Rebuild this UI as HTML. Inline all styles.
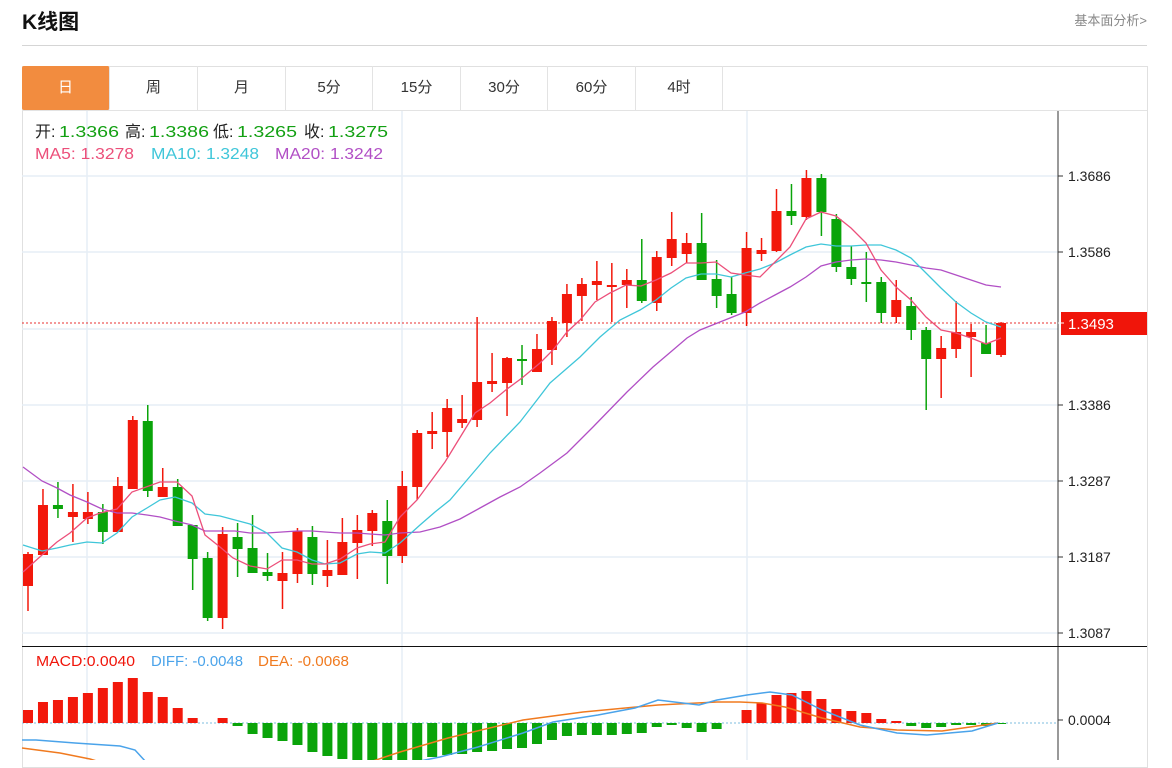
<!DOCTYPE html>
<html><head><meta charset="utf-8">
<style>
html,body{margin:0;padding:0;background:#fff;width:1172px;height:760px;overflow:hidden;font-family:"Liberation Sans","Noto Sans CJK SC",sans-serif;}
.title{position:absolute;left:22px;top:6px;font-size:21px;font-weight:bold;color:#111;}
.more{position:absolute;right:25px;top:10px;font-size:13px;color:#888;}
.hr{position:absolute;left:22px;top:45px;width:1125px;height:1px;background:#d5d5d5;}
.box{position:absolute;left:22px;top:66px;width:1124px;height:700px;border:1px solid #e0e0e0;}
.tabs{position:absolute;left:22px;top:66px;height:44px;width:1125px;border-bottom:1px solid #e3e3e3;}
.tab{position:absolute;top:0;height:44px;line-height:44px;text-align:center;font-size:15px;color:#333;border-right:1px solid #e3e3e3;box-sizing:border-box;}
.tab.on{background:#f28c3f;color:#fff;border-radius:2px;}
svg{position:absolute;left:0;top:0;}
</style></head><body>
<div class="title">K线图</div>
<div class="more">基本面分析&gt;</div>
<div class="hr"></div>
<div class="box"></div>
<div class="tabs">
<div class="tab on" style="left:0;width:88px">日</div>
<div class="tab" style="left:88px;width:88px">周</div>
<div class="tab" style="left:176px;width:88px">月</div>
<div class="tab" style="left:264px;width:87px">5分</div>
<div class="tab" style="left:351px;width:88px">15分</div>
<div class="tab" style="left:439px;width:87px">30分</div>
<div class="tab" style="left:526px;width:88px">60分</div>
<div class="tab" style="left:614px;width:87px">4时</div>
</div>
<svg id="s" width="1172" height="760" xmlns="http://www.w3.org/2000/svg" font-family="Liberation Sans, Noto Sans CJK SC, sans-serif">
<g stroke="#e6eef5" stroke-width="1.5">
<line x1="22" y1="176" x2="1058" y2="176"/><line x1="22" y1="252" x2="1058" y2="252"/><line x1="22" y1="329" x2="1058" y2="329"/><line x1="22" y1="405" x2="1058" y2="405"/><line x1="22" y1="481" x2="1058" y2="481"/><line x1="22" y1="557" x2="1058" y2="557"/><line x1="22" y1="633" x2="1058" y2="633"/>
<line x1="87" y1="111" x2="87" y2="760"/><line x1="402" y1="111" x2="402" y2="760"/><line x1="747" y1="111" x2="747" y2="760"/>
</g>
<line x1="1058" y1="111" x2="1058" y2="760" stroke="#333" stroke-width="1"/>
<line x1="22" y1="646.5" x2="1147" y2="646.5" stroke="#111" stroke-width="1"/>
<g stroke="#333"><line x1="1058" y1="176" x2="1063" y2="176"/><line x1="1058" y1="252" x2="1063" y2="252"/><line x1="1058" y1="405" x2="1063" y2="405"/><line x1="1058" y1="481" x2="1063" y2="481"/><line x1="1058" y1="557" x2="1063" y2="557"/><line x1="1058" y1="633" x2="1063" y2="633"/><line x1="1058" y1="720" x2="1063" y2="720"/></g>
<g font-size="14" fill="#222">
<text x="1068" y="181">1.3686</text><text x="1068" y="257">1.3586</text><text x="1068" y="410">1.3386</text><text x="1068" y="486">1.3287</text><text x="1068" y="562">1.3187</text><text x="1068" y="638">1.3087</text><text x="1068" y="725">0.0004</text>
</g>
<line x1="22" y1="323" x2="1058" y2="323" stroke="#e83030" stroke-dasharray="2,2" stroke-width="1"/>
<rect x="1061" y="312" width="86" height="23" fill="#f0150a"/>
<line x1="1058" y1="323" x2="1064" y2="323" stroke="#fff"/>
<text x="1068" y="329" font-size="15" fill="#fff">1.3493</text>
<g font-size="16">
<text x="35" y="137" fill="#222">开:</text><text x="59" y="137" fill="#12a012" textLength="60" lengthAdjust="spacingAndGlyphs">1.3366</text>
<text x="125" y="137" fill="#222">高:</text><text x="149" y="137" fill="#12a012" textLength="60" lengthAdjust="spacingAndGlyphs">1.3386</text>
<text x="213" y="137" fill="#222">低:</text><text x="237" y="137" fill="#12a012" textLength="60" lengthAdjust="spacingAndGlyphs">1.3265</text>
<text x="304" y="137" fill="#222">收:</text><text x="328" y="137" fill="#12a012" textLength="60" lengthAdjust="spacingAndGlyphs">1.3275</text>
<text x="35" y="159" fill="#ec4f7a" textLength="99" lengthAdjust="spacingAndGlyphs">MA5: 1.3278</text>
<text x="151" y="159" fill="#3fc6d9" textLength="108" lengthAdjust="spacingAndGlyphs">MA10: 1.3248</text>
<text x="275" y="159" fill="#b14fc5" textLength="108" lengthAdjust="spacingAndGlyphs">MA20: 1.3242</text>
</g>
<g font-size="15">
<text x="36" y="666" fill="#f0150a" textLength="99" lengthAdjust="spacingAndGlyphs">MACD:0.0040</text>
<text x="151" y="666" fill="#4aa3ea" textLength="92" lengthAdjust="spacingAndGlyphs">DIFF: -0.0048</text>
<text x="258" y="666" fill="#f07a1f" textLength="91" lengthAdjust="spacingAndGlyphs">DEA: -0.0068</text>
</g>
<line x1="22" y1="723" x2="1058" y2="723" stroke="#a9d4ea" stroke-dasharray="2,2" stroke-width="1.5"/>
<g id="c"></g>
<polyline fill="none" stroke="#b14fc5" stroke-width="1.3" points="23,467 42,481 57,488 70,495 87,502 102,509 117,513 132,513 147,515 160,517 175,521 192,525 205,531 220,531 235,531 250,533 267,533 282,532 297,531 312,531 325,532 340,533 357,533 370,534 385,535 400,533 420,532 440,527 460,519 480,508 500,497 520,487 540,473 567,453 593,427 627,392 653,367 673,350 687,338 700,330 720,322 745,312 760,303 775,295 790,287 806,277 821,266 836,262 851,260 866,259 881,260 896,262 911,265 926,268 941,270 956,275 971,280 986,285 1001,287"/>
<polyline fill="none" stroke="#3fc6d9" stroke-width="1.3" points="23,545 42,551 57,548 70,545 87,542 102,543 117,533 132,517 147,508 160,500 175,497 192,503 205,514 220,516 250,524 267,533 282,548 297,552 312,560 325,564 340,563 357,554 370,552 385,553 400,543 420,525 435,512 450,500 467,480 490,453 520,422 537,400 550,383 580,357 600,337 620,320 640,310 656,300 671,288 686,278 701,274 716,274 731,277 745,273 760,269 775,263 790,255 806,247 821,244 836,246 851,246 866,245 881,245 896,250 911,258 926,273 941,288 956,302 971,313 986,322 1001,327"/>
<polyline fill="none" stroke="#ec4f7a" stroke-width="1.3" points="23,572 42,555 57,542 70,533 87,518 100,513 117,509 132,492 160,482 177,482 192,496 205,535 220,547 233,558 250,566 267,569 282,560 297,560 312,564 325,564 340,559 357,548 370,544 385,542 400,517 417,500 445,462 475,413 490,403 507,389 522,378 540,363 553,350 567,332 580,320 595,302 610,293 626,285 641,286 656,280 671,273 686,263 701,263 716,262 731,273 745,275 760,277 775,262 790,247 806,219 821,212 836,216 851,228 866,243 881,270 896,287 911,300 926,317 941,330 956,333 971,338 986,344 1001,338"/>
<polyline fill="none" stroke="#f07a1f" stroke-width="1.5" points="22,748 60,753 90,759 100,762"/>
<polyline fill="none" stroke="#f07a1f" stroke-width="1.5" points="370,762 400,752 448,738 523,720 583,712 658,705 717,702 740,702 762,703 785,707 822,718 860,727 897,730 942,731 998,723"/>
<polyline fill="none" stroke="#4aa3ea" stroke-width="1.5" points="22,740 36,740 75,743 120,746 135,750 146,762"/>
<polyline fill="none" stroke="#4aa3ea" stroke-width="1.5" points="415,762 440,757 478,747 523,733 553,722 598,715 635,708 658,700 699,705 717,700 747,695 770,692 792,695 822,710 860,725 897,733 927,735 972,731 998,723"/>
</svg>
<script>
var d=[[586,554,552,611],[555,505,489,555],[505,509,482,518],[517,512,484,542],[519,512,492,524],[512,532,504,544],[532,486,477,532],[489,420,416,489],[421,491,405,497],[497,487,468,497],[487,526,479,526],[525,559,525,590],[558,618,552,621],[618,534,527,629],[537,549,523,577],[548,573,515,573],[572,576,553,581],[581,573,552,609],[574,531,528,583],[537,574,526,585],[576,570,540,587],[575,542,518,575],[543,530,515,579],[531,513,510,546],[521,556,500,584],[556,486,471,563],[487,433,430,500],[434,431,412,449],[432,408,399,457],[423,419,395,428],[420,382,317,427],[384,381,353,392],[383,358,357,416],[359,361,345,385],[372,349,334,372],[350,321,317,365],[323,294,284,337],[296,284,278,321],[285,281,261,300],[287,285,263,322],[285,280,269,308],[280,301,239,303],[303,257,251,311],[258,239,212,266],[254,243,233,263],[243,280,213,280],[279,296,260,308],[294,313,277,315],[313,248,232,326],[254,250,238,261],[251,211,189,252],[211,216,184,225],[217,178,170,220],[178,212,174,236],[219,267,214,272],[267,279,246,285],[282,283,252,302],[282,313,277,323],[317,300,280,323],[306,330,297,340],[330,359,327,410],[359,348,336,398],[349,332,301,358],[337,332,324,377],[343,354,325,354],[355,323,322,357]];
var m={0:710,1:702,2:700,3:697,4:693,5:688,6:682,7:678,8:692,9:697,10:708,11:718,13:718,14:726,15:734,16:738,17:741,18:745,19:752,20:756,21:759,22:761,23:761,24:761,25:761,26:761,27:757,28:755,29:754,30:752,31:751,32:749,33:748,34:744,35:740,36:736,37:735,38:735,39:735,40:734,41:733,42:727,43:725,44:728,45:732,46:729,48:710,49:703,50:695,51:693,52:691,53:699,54:709,55:711,56:713,57:719,58:721,59:726,60:728,61:727,62:725,63:725,64:726,65:724};
var R="#f2180b",G="#0aa40a",h="";
for(var i=0;i<d.length;i++){var x=28+14.97*i,o=d[i][0],c=d[i][1],col=c<=o?R:G;
var t=Math.min(o,c),b=Math.max(o,c);if(b-t<2){b=t+2;}
h+='<line x1="'+x+'" y1="'+d[i][2]+'" x2="'+x+'" y2="'+d[i][3]+'" stroke="'+col+'" stroke-width="1.5"/>';
var xl=Math.max(x-5,22);h+='<rect x="'+xl+'" y="'+t+'" width="'+(x+5-xl)+'" height="'+(b-t)+'" fill="'+col+'"/>';
if(m[i]!==undefined){var v=m[i];if(v<723)h+='<rect x="'+xl+'" y="'+v+'" width="'+(x+5-xl)+'" height="'+(723-v)+'" fill="'+R+'"/>';else h+='<rect x="'+xl+'" y="723" width="'+(x+5-xl)+'" height="'+(v-723)+'" fill="'+G+'"/>';}}
document.getElementById("c").innerHTML=h;
</script>
</body></html>
